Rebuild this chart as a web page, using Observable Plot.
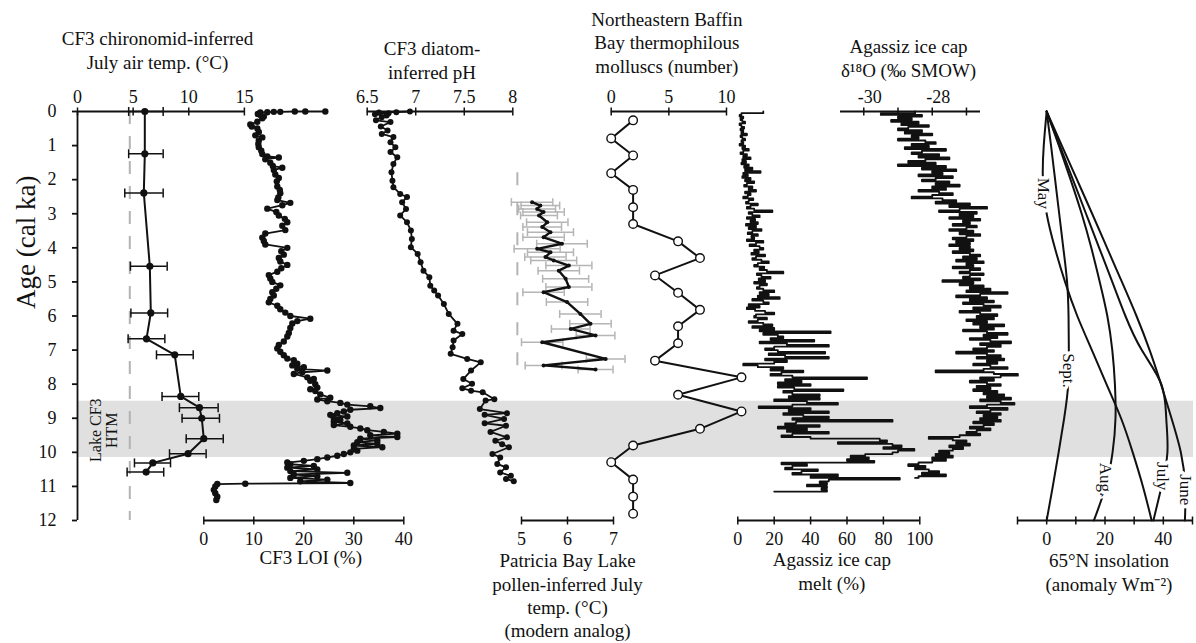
<!DOCTYPE html>
<html>
<head>
<meta charset="utf-8">
<script src="https://cdn.jsdelivr.net/npm/d3@7"></script>
<script src="https://cdn.jsdelivr.net/npm/@observablehq/plot@0.6"></script>
<style>
  html, body { margin: 0; padding: 0; background: #fff; }
  #chart { position: relative; width: 1196px; height: 643px; overflow: hidden; background: #fff; }
  #chart svg { position: absolute; left: 0; top: 0; }
</style>
</head>
<body>
<div id="chart"></div>
<script>
// ---------------- DATA ----------------
const ageTicks = [0,1,2,3,4,5,6,7,8,9,10,11,12];
const htmBand = [8.5, 10.15];

// CF3 chironomid-inferred July air temperature
const chiroAge  = [0, 1.24, 2.39, 4.54, 5.91, 6.67, 7.14, 8.36, 8.69, 9.0, 9.6, 10.04, 10.31, 10.58];
const chiroTemp = [6.05, 6.05, 5.96, 6.5, 6.59, 6.2, 8.74, 9.28, 10.96, 11.17, 11.35, 9.94, 6.77, 6.17];
const chiroLow  = [4.6, 4.6, 4.25, 4.76, 4.8, 4.55, 7.1, 7.6, 9.16, 9.4, 9.77, 8.27, 5.12, 4.46];
const chiroHigh = [7.7, 7.7, 7.7, 8.06, 8.1, 7.85, 10.4, 10.9, 12.64, 12.76, 13.1, 11.56, 8.36, 7.75];
const chiroModern = 4.7;
const chiroTicks = [0, 5, 10, 15];

// CF3 LOI (%)
const loiAge = [0.00,0.00,0.00,0.01,0.01,0.02,0.03,0.07,0.10,0.15,0.20,0.30,0.38,0.44,0.50,0.60,0.70,0.76,0.85,0.95,
1.05,1.15,1.25,1.32,1.35,1.40,1.50,1.60,1.65,1.72,1.85,1.95,2.05,2.20,2.30,2.40,2.52,2.60,2.68,2.75,
2.85,2.95,3.05,3.15,3.25,3.35,3.48,3.58,3.70,3.80,3.90,4.00,4.10,4.20,4.30,4.40,4.50,4.60,4.70,4.80,
4.90,5.00,5.10,5.20,5.30,5.40,5.50,5.60,5.70,5.80,5.90,6.00,6.08,6.15,6.22,6.35,6.50,6.60,6.75,6.85,
6.95,7.05,7.15,7.25,7.30,7.40,7.45,7.50,7.55,7.60,7.65,7.70,7.80,7.85,7.90,8.00,8.10,8.15,8.20,8.30,
8.40,8.45,8.50,8.55,8.60,8.65,8.70,8.75,8.80,8.85,8.90,8.95,9.00,9.05,9.10,9.15,9.20,9.25,9.30,9.35,
9.40,9.45,9.50,9.55,9.60,9.65,9.70,9.75,9.80,9.85,9.90,9.95,10.00,10.05,10.10,10.15,10.20,10.25,10.30,10.35,
10.40,10.45,10.50,10.55,10.60,10.65,10.70,10.75,10.80,10.85,10.90,10.92,10.93,11.00,11.10,11.20,11.30,11.40];
const loiValue = [24.3,20.3,18.2,15.3,14.0,12.7,11.3,10.8,11.3,12.0,11.7,10.7,9.3,9.6,10.7,11.0,10.3,11.7,11.0,10.9,
11.0,11.5,11.7,12.7,15.0,12.3,13.3,13.8,15.7,14.0,14.3,15.0,14.6,14.7,15.2,15.3,14.9,14.7,17.3,15.7,
12.7,14.5,15.0,16.2,16.7,15.7,16.3,12.3,11.7,12.0,12.3,16.7,15.5,16.0,15.0,15.3,16.7,15.5,14.7,13.0,
13.3,13.7,15.3,14.5,13.7,14.0,13.3,13.0,14.7,15.3,16.3,17.3,21.3,18.7,17.7,17.3,17.0,16.7,16.0,15.0,
14.7,15.3,16.0,16.7,18.0,18.7,17.7,20.0,18.7,24.7,19.7,18.0,20.7,22.0,21.3,22.3,22.7,21.3,22.3,23.3,
25.3,22.7,24.7,27.3,28.7,33.3,35.3,29.3,28.0,26.7,25.3,28.7,26.0,27.3,26.0,28.7,26.0,29.3,31.3,32.7,
36.0,38.7,33.3,38.7,31.3,34.7,30.7,34.7,30.0,35.7,30.0,30.7,29.3,28.0,26.7,24.7,22.7,20.0,16.7,17.3,
22.0,16.7,22.7,17.3,28.7,18.0,22.7,17.3,24.7,19.3,29.3,8.3,2.7,2.3,2.0,2.3,2.7,2.5];
const loiTicks = [0, 10, 20, 30, 40];

// CF3 diatom-inferred pH
const phAge = [0.00,0.02,0.03,0.05,0.08,0.12,0.17,0.26,0.31,0.44,
0.56,0.66,0.75,0.90,1.05,1.19,1.34,1.54,1.78,2.03,
2.22,2.42,2.51,2.66,2.86,3.05,3.25,3.49,3.74,3.98,
4.18,4.42,4.67,4.86,5.11,5.25,5.40,5.65,5.94,6.23,
6.43,6.53,6.72,6.92,7.11,7.26,7.36,7.60,7.85,7.99,
8.12,8.19,8.24,8.44,8.48,8.73,8.85,8.90,9.02,9.15,
9.22,9.40,9.56,9.66,9.76,9.85,10.05,10.15,10.34,10.44,
10.59,10.69,10.78,10.85];
const phValue = [6.94,6.80,6.62,6.72,6.58,6.70,6.65,6.59,6.74,6.64,
6.71,6.65,6.77,6.74,6.79,6.74,6.81,6.77,6.75,6.76,
6.77,6.84,6.91,6.86,6.90,6.84,6.91,6.95,6.96,6.95,
7.02,7.05,7.08,7.14,7.15,7.19,7.23,7.29,7.34,7.43,
7.39,7.48,7.39,7.38,7.36,7.53,7.67,7.57,7.49,7.58,
7.48,7.57,7.69,7.81,7.72,7.66,7.94,7.71,7.91,7.71,
7.93,7.77,7.94,7.82,7.89,7.96,7.79,7.87,7.84,7.93,
7.87,7.98,7.93,8.01];
const phTicks = [6.5, 7, 7.5, 8];

// Patricia Bay Lake pollen-inferred July temperature
const pollenAge  = [2.66,2.76,2.86,2.95,3.05,3.25,3.39,3.54,3.69,3.88,4.03,4.13,4.27,4.37,4.52,4.67,4.91,5.15,5.30,5.59,5.94,6.23,6.38,6.57,6.77,7.26,7.45,7.57];
const pollenTemp = [5.23,5.41,5.34,5.48,5.38,5.56,5.45,5.63,5.48,5.88,5.34,5.63,5.52,5.70,6.03,5.81,5.96,6.03,5.48,5.99,6.28,6.50,6.07,6.61,5.45,6.83,5.48,6.61];
const pollenErr  = [0.45,0.42,0.40,0.45,0.40,0.45,0.42,0.50,0.45,0.55,0.50,0.50,0.45,0.50,0.50,0.45,0.50,0.50,0.45,0.45,0.45,0.45,0.42,0.42,0.45,0.42,0.40,0.38];
const pollenModern = 4.91;
const pollenModernSpan = [1.8, 7.6];
const pollenTicks = [5, 6, 7];

// NE Baffin Bay thermophilous molluscs
const molluscAge   = [0.26,0.79,1.29,1.81,2.30,2.81,3.30,3.81,4.30,4.81,5.32,5.82,6.30,6.80,7.31,7.80,8.31,8.80,9.31,9.80,10.29,10.80,11.30,11.80];
const molluscCount = [1.9,0,1.9,0,1.9,1.9,1.9,5.8,7.7,3.8,5.8,7.7,5.8,5.8,3.8,11.3,5.8,11.3,7.7,1.9,0,1.9,1.9,1.9];
const molluscTicks = [0, 5, 10];

// Agassiz ice cap melt (%), one value every 0.05 ka from 0 ka
const meltStart = 0, meltStep = 0.05;
const meltValue = [
14,2,1,3,1.5,2.5,4,1,2,3.5,1.5,3,2,5,1.5,2.5,4,2,3,1,
4,2.5,6,3,1.5,5,3,7,2.5,4.5,2,6,3.5,8,4,12.5,3,5.5,2.5,7,
4,9,5,3.5,8,6,10,4,7,5.5,3,8.5,6,4.5,11,7,5,9,19,6,
8,12,5,9.5,7,11,4.5,10,6,13,8,5.5,11,7.5,9,5,14,10,6.5,12,
14,9,11.5,7.5,15,10,8,13,17,11,9,14.5,12,16,25,10.5,13,18,11.5,15,
9,16,12,10.5,14,20,12,17,11,23,8,14,17,6,12,5,9.5,15,20,10,
9,16,11,6,14,19,8,20,12,51,14,22,25,18,42,12,27,50,20,15,
22,48,17,26,50,15,27,20,3,11,25,18,36,24,18,30,71,26,35,22,
40,22,31,58,25,30,45,28,45,20,38,55,30,11.5,40,28,50,25,36,50,
30,85,32,26,45,22,38,27,50,30,24,40,78,82,55,85,90,80,97,88,
85,70,62,72,60,75,24,38,30,26,44,35,30,55,40,89,50,45,49,38,
49,46,49,20];
const meltTicks = [0, 20, 40, 60, 80, 100];

// Agassiz ice cap d18O (permil SMOW), one value every 0.05 ka from 0 ka
const d18Start = 0, d18Step = 0.05;
const d18Value = [
-28.5,-29.5,-28.3,-29.0,-28.6,-29.2,-28.4,-28.9,-28.1,-28.7,-29.0,-28.3,-28.8,-28.0,-28.6,-28.4,-29.0,-28.2,-27.9,-28.6,
-28.1,-28.8,-27.6,-28.3,-28.6,-27.8,-28.4,-27.5,-28.2,-28.7,-27.9,-29.0,-27.6,-28.3,-27.3,-28.0,-27.7,-28.4,-27.4,-27.9,
-28.3,-27.5,-27.9,-27.2,-28.0,-27.6,-28.4,-27.8,-27.4,-28.0,-28.6,-27.7,-27.3,-27.9,-26.9,-27.5,-26.4,-27.2,-27.8,-26.7,
-27.2,-26.8,-27.5,-26.6,-27.1,-26.9,-27.4,-26.7,-27.0,-27.5,-26.8,-27.2,-26.6,-27.0,-27.4,-26.8,-27.3,-26.9,-27.5,-26.9,
-27.2,-26.8,-27.4,-26.9,-26.6,-27.1,-26.7,-27.3,-26.5,-27.0,-26.8,-27.4,-26.6,-26.9,-27.2,-26.5,-26.9,-27.1,-26.6,-27.7,
-26.8,-27.2,-26.5,-26.9,-26.3,-27.0,-25.8,-26.6,-27.3,-26.4,-26.9,-26.2,-27.1,-26.5,-26.0,-26.8,-26.3,-27.2,-26.6,-26.1,
-26.7,-26.2,-27.0,-26.4,-26.8,-25.9,-26.6,-26.2,-27.1,-26.4,-25.8,-26.5,-26.1,-26.9,-26.3,-25.7,-26.6,-26.0,-26.4,-26.8,
-26.2,-27.3,-26.4,-26.0,-26.7,-25.9,-26.4,-26.1,-26.8,-26.3,-25.8,-26.5,-27.9,-26.2,-25.5,-26.0,-26.6,-26.2,-26.9,-26.4,
-26.0,-26.7,-26.3,-26.8,-26.1,-26.5,-25.9,-26.4,-25.7,-26.6,-26.0,-25.6,-26.4,-26.9,-25.8,-26.3,-26.7,-26.0,-26.5,-26.1,
-26.6,-26.0,-26.8,-26.2,-26.5,-26.9,-26.3,-26.7,-27.0,-26.6,-27.2,-28.1,-27.4,-27.0,-27.3,-26.9,-27.5,-27.1,-27.4,-27.8,
-27.5,-27.9,-27.4,-28.0,-27.6,-28.0,-28.4,-28.7,-28.2,-28.5,-28.1,-27.8,-28.3,-27.6,-28.4,-28.5];
const d18TickMarks = [-30, -29, -28, -27];
const d18TickLabels = [-30, -28];

// 65N insolation anomaly (W m-2)
const insolAge  = [0,1,2,3,4,5,6,7,8,9,10,11,12];
const insolMay  = [0,-1,-1.3,0,2.8,6.3,10.5,15.5,20.5,25.5,29.5,33,36];
const insolJune = [0,5.2,10.4,15.6,20.7,25.8,30.8,35.3,39.2,42.8,46,47.5,47.4];
const insolJuly = [0,4.5,9,13.5,18,22.5,27,32.6,39.3,41,41.4,39.4,36.6];
const insolAug  = [0,4.2,8.2,12,15.3,18.2,20.8,22.5,23.4,23.6,22.6,20.2,16.2];
const insolSept = [0,1.5,2.9,4.3,5.7,7,7.5,7.6,7.4,6.0,4.1,2.1,0];
const insolMonths = ["May", "June", "July", "Aug.", "Sept."];
const insolLabelText  = ["May", "Sept.", "Aug.", "July", "June"];
const insolLabelValue = [-1.1, 7.5, 20.3, 39.8, 47.7];
const insolLabelAge   = [2.4, 7.6, 10.8, 10.7, 11.1];
const insolTickMarks  = [-10, 0, 10, 20, 30, 40, 50];
const insolTickLabels = [0, 20, 40];

// Text
const ageLabel = "Age (cal ka)";
const htmLabel = "Lake CF3\nHTM";
const chiroTitle = "CF3 chironomid-inferred\nJuly air temp. (°C)";
const phTitle = "CF3 diatom-\ninferred pH";
const molluscTitle = "Northeastern Baffin\nBay thermophilous\nmolluscs (number)";
const d18Title = "Agassiz ice cap\nδ¹⁸O (‰ SMOW)";
const loiTitle = "CF3 LOI (%)";
const pollenTitle = "Patricia Bay Lake\npollen-inferred July\ntemp. (°C)\n(modern analog)";
const meltTitle = "Agassiz ice cap\nmelt (%)";
const insolTitle = "65°N insolation\n(anomaly Wm⁻²)";

// ---------------- TABLES ----------------
const chiro = chiroAge.map((a, i) => ({age: a, v: chiroTemp[i], lo: chiroLow[i], hi: chiroHigh[i]}));
const loi = loiAge.map((a, i) => ({age: a, v: loiValue[i]}));
const ph = phAge.map((a, i) => ({age: a, v: phValue[i]}));
const pollen = pollenAge.map((a, i) => ({age: a, v: pollenTemp[i], lo: pollenTemp[i] - pollenErr[i], hi: pollenTemp[i] + pollenErr[i]}));
const mollusc = molluscAge.map((a, i) => ({age: a, v: molluscCount[i]}));
const melt = meltValue.map((v, i) => ({age: meltStart + i * meltStep, v}));
const d18 = d18Value.map((v, i) => ({age: d18Start + i * d18Step, v}));
const insolSeries = [insolMay, insolJune, insolJuly, insolAug, insolSept];
const insol = insolMonths.flatMap((m, k) => insolAge.map((a, j) => ({month: m, age: a, v: insolSeries[k][j]})));
const insolLabels = insolLabelText.map((t, i) => ({text: t, v: insolLabelValue[i], age: insolLabelAge[i]}));

// ---------------- LAYOUT HELPERS ----------------
const W = 1196, H = 643, TOP = 111, BOT = 520;
const FONT = "'Liberation Serif', 'Times New Roman', serif";
const INK = "#111";
const vbar = {draw(ctx, size) { const r = Math.sqrt(size / Math.PI); ctx.moveTo(0, -r); ctx.lineTo(0, r); }};

function panel({left, right, domain, marks, xAxis = true, yAxis = false}) {
  return Plot.plot({
    width: W, height: H,
    marginTop: TOP, marginBottom: H - BOT, marginLeft: left, marginRight: W - right,
    x: Object.assign({domain}, xAxis ? {} : {axis: null}),
    y: Object.assign({domain: [0, 12], reverse: true}, yAxis ? {} : {axis: null}),
    style: {fontFamily: FONT, fontSize: "18px", background: "transparent", color: INK, overflow: "visible"},
    marks
  });
}
const fmt = d => String(d);
function axisTop(tickMarks, tickLabels, dx = 0) {
  return [
    Plot.ruleY([0], {stroke: INK, strokeWidth: 1.8}),
    Plot.dot(tickMarks, {x: d => d, frameAnchor: "top", symbol: vbar, r: 4, fill: "none", stroke: INK, strokeWidth: 1.5}),
    Plot.axisX({anchor: "top", ticks: tickLabels, tickSize: 0, tickPadding: 9, label: null, tickFormat: fmt, fontSize: 18, fontFamily: FONT, dx})
  ];
}
function axisBottom(tickMarks, tickLabels) {
  return [
    Plot.ruleY([12], {stroke: INK, strokeWidth: 1.8}),
    Plot.dot(tickMarks, {x: d => d, frameAnchor: "bottom", symbol: vbar, r: 4, fill: "none", stroke: INK, strokeWidth: 1.5}),
    Plot.axisX({anchor: "bottom", ticks: tickLabels, tickSize: 0, tickPadding: 12, label: null, tickFormat: fmt, fontSize: 18, fontFamily: FONT})
  ];
}
function titleTop(t, dy, dx) {
  return Plot.text([t], {text: d => d, frameAnchor: "top", lineAnchor: "bottom", dy, dx, fontSize: 19, fontFamily: FONT, lineHeight: 1.22, fill: INK});
}
function titleBottom(t, dy, dx) {
  return Plot.text([t], {text: d => d, frameAnchor: "bottom", lineAnchor: "top", dy, dx, fontSize: 19, fontFamily: FONT, lineHeight: 1.22, fill: INK});
}

const plots = [];

// Background: HTM band
plots.push(panel({
  left: 77, right: 1193, domain: [0, 1], xAxis: false,
  marks: [Plot.rect([htmBand], {x1: 0, x2: 1, y1: d => d[0], y2: d => d[1], fill: "#e0e0e0"})]
}));

// Chironomid panel (with age axis)
plots.push(panel({
  left: 77, right: 245, domain: [0, 15.1], yAxis: true,
  marks: [
    Plot.ruleX([chiroModern], {y1: 0, y2: 12, stroke: "#b3b3b3", strokeWidth: 2, strokeDasharray: "13,12"}),
    Plot.ruleX([0], {y1: 0, y2: 12, stroke: INK, strokeWidth: 1.8}),
    Plot.axisY({ticks: ageTicks, tickSize: 5, tickPadding: 16, label: null, tickFormat: fmt, fontSize: 18, fontFamily: FONT, strokeWidth: 1.8}),
    ...axisTop(chiroTicks, chiroTicks),
    Plot.ruleY(chiro, {y: "age", x1: "lo", x2: "hi", stroke: INK, strokeWidth: 1.5}),
    Plot.dot(chiro, {x: "lo", y: "age", symbol: vbar, r: 4.5, fill: "none", stroke: INK, strokeWidth: 1.5}),
    Plot.dot(chiro, {x: "hi", y: "age", symbol: vbar, r: 4.5, fill: "none", stroke: INK, strokeWidth: 1.5}),
    Plot.line(chiro, {x: "v", y: "age", stroke: INK, strokeWidth: 2}),
    Plot.dot(chiro, {x: "v", y: "age", r: 3.6, fill: INK, stroke: "none"}),
    Plot.text([htmLabel], {text: d => d, x: 2.4, y: 9.35, rotate: -90, fontSize: 16, fontFamily: FONT, lineHeight: 0.95, fill: INK}),
    Plot.text([ageLabel], {text: d => d, frameAnchor: "left", rotate: -90, dx: -51, dy: -7, fontSize: 27, fontFamily: FONT, fill: INK}),
    titleTop(chiroTitle, -43, -4)
  ]
}));

// LOI panel
plots.push(panel({
  left: 203.3, right: 403.3, domain: [0, 40],
  marks: [
    ...axisBottom(loiTicks, loiTicks),
    Plot.line(loi, {x: "v", y: "age", stroke: INK, strokeWidth: 1.8}),
    Plot.dot(loi, {x: "v", y: "age", r: 3.2, fill: INK, stroke: "none"}),
    titleBottom(loiTitle, 27.5, 7)
  ]
}));

// pH panel
plots.push(panel({
  left: 366.7, right: 512.3, domain: [6.5, 8],
  marks: [
    ...axisTop(phTicks, phTicks),
    Plot.line(ph, {x: "v", y: "age", stroke: INK, strokeWidth: 1.8}),
    Plot.dot(ph, {x: "v", y: "age", r: 3, fill: INK, stroke: "none"}),
    titleTop(phTitle, -33, -8)
  ]
}));

// Pollen panel
plots.push(panel({
  left: 521, right: 613, domain: [5, 7],
  marks: [
    ...axisBottom(pollenTicks, pollenTicks),
    Plot.ruleX([pollenModern], {y1: pollenModernSpan[0], y2: pollenModernSpan[1], stroke: "#b3b3b3", strokeWidth: 2, strokeDasharray: "13,17"}),
    Plot.ruleY(pollen, {y: "age", x1: "lo", x2: "hi", stroke: "#b5b5b5", strokeWidth: 1.5}),
    Plot.dot(pollen, {x: "lo", y: "age", symbol: vbar, r: 4, fill: "none", stroke: "#b5b5b5", strokeWidth: 1.5}),
    Plot.dot(pollen, {x: "hi", y: "age", symbol: vbar, r: 4, fill: "none", stroke: "#b5b5b5", strokeWidth: 1.5}),
    Plot.line(pollen, {x: "v", y: "age", stroke: INK, strokeWidth: 2.4}),
    Plot.dot(pollen, {x: "v", y: "age", r: 2, fill: INK, stroke: "none"}),
    titleBottom(pollenTitle, 30.5, 0)
  ]
}));

// Molluscs panel
plots.push(panel({
  left: 610.7, right: 726, domain: [0, 10],
  marks: [
    ...axisTop(molluscTicks, molluscTicks),
    Plot.line(mollusc, {x: "v", y: "age", stroke: INK, strokeWidth: 2}),
    Plot.dot(mollusc, {x: "v", y: "age", r: 4.3, fill: "white", stroke: INK, strokeWidth: 1.4}),
    titleTop(molluscTitle, -39, -2)
  ]
}));

// Melt panel
plots.push(panel({
  left: 737.3, right: 919.3, domain: [0, 100],
  marks: [
    ...axisBottom(meltTicks, meltTicks),
    Plot.line(melt, {x: "v", y: "age", curve: "step-before", stroke: INK, strokeWidth: 1.8}),
    titleBottom(meltTitle, 29.5, 3)
  ]
}));

// d18O panel
plots.push(panel({
  left: 840, right: 980, domain: [-30.68, -26.59],
  marks: [
    ...axisTop(d18TickMarks, d18TickLabels, 6),
    Plot.line(d18, {x: "v", y: "age", curve: "step-before", stroke: INK, strokeWidth: 1.9}),
    titleTop(d18Title, -35, -2)
  ]
}));

// Insolation panel
plots.push(panel({
  left: 1017, right: 1192, domain: [-10, 50],
  marks: [
    ...axisBottom(insolTickMarks, insolTickLabels),
    Plot.line(insol, {x: "v", y: "age", z: "month", curve: "natural", stroke: INK, strokeWidth: 2}),
    Plot.text(insolLabels, {x: "v", y: "age", text: "text", rotate: 90, fontSize: 17, fontFamily: FONT, fill: INK, stroke: "white", strokeWidth: 7, paintOrder: "stroke"}),
    titleBottom(insolTitle, 30.5, 4)
  ]
}));

const container = document.getElementById("chart");
for (const p of plots) {
  p.style.position = "absolute";
  p.style.left = "0px";
  p.style.top = "0px";
  container.appendChild(p);
}
</script>
</body>
</html>
